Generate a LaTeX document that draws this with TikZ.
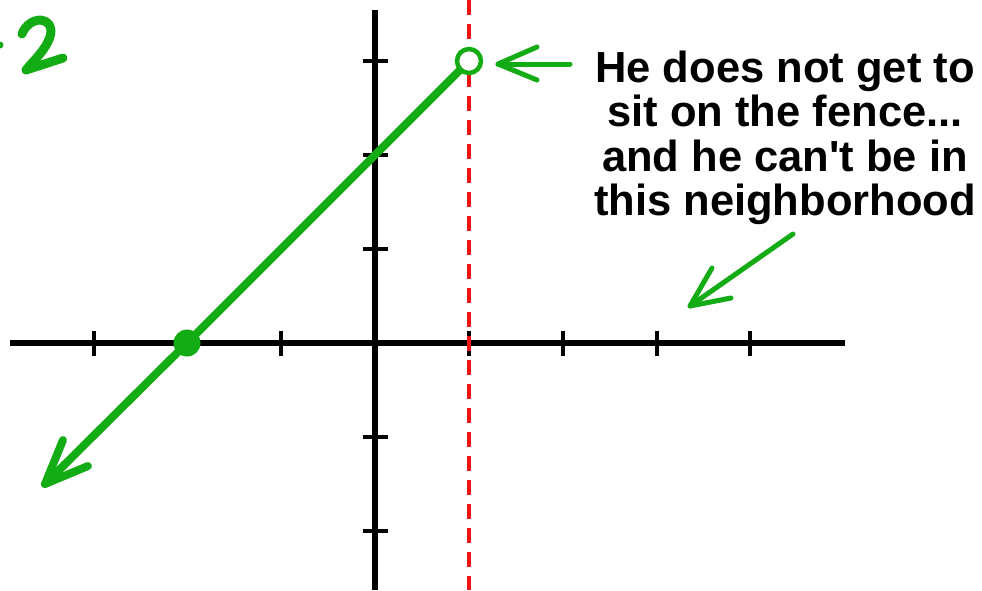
\documentclass[tikz,border=0pt]{standalone}
\usepackage{fontspec}
\setmainfont{Liberation Sans}
\definecolor{grn}{RGB}{20,172,20}
\definecolor{rd}{RGB}{240,20,20}
\begin{document}
\begin{tikzpicture}[x=1pt,y=-1pt,
  axis/.style={line width=6.5pt,black},
  tick/.style={line width=4.5pt,black},
  fence/.style={rd,line width=4.5pt,dash pattern=on 15pt off 9pt},
  graphline/.style={grn,line width=8pt},
  pointer/.style={grn,line width=5pt,line cap=round,line join=round},
  note/.style={font=\bfseries\fontsize{43.5}{44.5}\selectfont,align=center,inner sep=0pt}]
\useasboundingbox (0,0) rectangle (982,590);
% axes
\coordinate (xl) at (10,343);
\coordinate (xr) at (845,343);
\coordinate (yt) at (375,10);
\coordinate (yb) at (375,590);
\draw[axis] (xl) -- (xr);
\draw[axis] (yt) -- (yb);
% ticks
\foreach \x in {94,281,469,563,657,750} \draw[tick] (\x,331) -- (\x,356);
\foreach \y in {61,155,249,437,531} \draw[tick] (363,\y) -- (388,\y);
% fence
\coordinate (ft) at (469,0);
\coordinate (fb) at (469,590);
\draw[fence] (ft) -- (fb);
% graph
\coordinate (hole) at (469,61);
\coordinate (zero) at (187,343);
\coordinate (tip) at (45,484);
\draw[graphline,line cap=round] (hole) -- (zero) -- (tip);
\draw[grn,line width=8pt,line cap=round,line join=round] (63,440) -- (tip) -- (88,466);
\fill[white] (hole) circle (12);
\draw[grn,line width=4.5pt] (hole) circle (12);
\fill[grn] (zero) circle (13.5);
% note
\node[note] (txt) at (785,138) {He does not get to\\sit on the fence...\\and he can\textquotesingle t be in\\this neighborhood};
% pointers
\coordinate (p1s) at (570,64);
\coordinate (p1t) at (498,64);
\draw[pointer] (p1s) -- (p1t);
\draw[pointer] (537,47) -- (p1t) -- (537,80);
\coordinate (p2s) at (793,234);
\coordinate (p2t) at (690,306);
\draw[pointer] (p2s) -- (p2t);
\draw[pointer] (712,268) -- (p2t) -- (731,298);
% handwritten 2
\draw[grn,line width=9pt,line cap=round,line join=round]
  (22,34) .. controls (29,15) and (56,15) .. (50,37) .. controls (45,51) and (33,61) .. (26,70) -- (63,58);
\fill[grn] (0,45) circle (3.5);
\end{tikzpicture}
\end{document}
